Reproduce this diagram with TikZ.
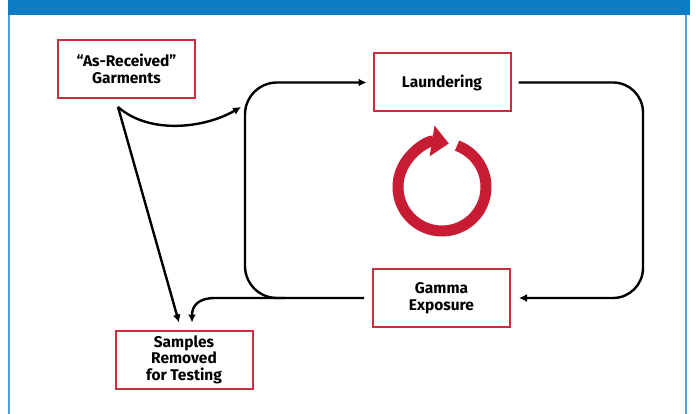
\documentclass[tikz,border=0pt]{standalone}
\usepackage{fontspec}
\setmainfont{Fira Sans}
\usetikzlibrary{arrows.meta}
\definecolor{barblue}{RGB}{12,124,196}
\definecolor{edgeblue}{RGB}{80,160,220}
\definecolor{boxred}{RGB}{206,44,62}
\definecolor{loopred}{RGB}{200,28,52}
\begin{document}
\begin{tikzpicture}[x=1pt,y=-1pt,
        stepbox/.style={draw=boxred,line width=2pt,fill=white,
            minimum width=137pt,minimum height=58pt,align=center,
            font=\fontsize{15.5}{16.5}\selectfont\bfseries},
        flow/.style={line width=2.4pt,-{Latex[length=8pt,width=8pt]}}]
\useasboundingbox (0,0) rectangle (696,414);
\fill[white] (0,0) rectangle (696,414);
\fill[barblue] (8,0) rectangle (690,15);
\draw[edgeblue,line width=1.5pt] (9,15) -- (9,414);
\draw[edgeblue,line width=1.5pt] (686,15) -- (686,414);

\node[stepbox] (recv) at (126.5,69) {“As-Received”\\Garments};
\node[stepbox] (laund) at (442,82.5) {Laundering};
\node[stepbox] (gamma) at (441.5,298) {Gamma\\Exposure};
\node[stepbox] (samples) at (184,359.5) {Samples\\Removed\\for Testing};

\coordinate (ne) at (643,82.5);
\coordinate (se) at (643,298);
\coordinate (sw) at (245,298);
\coordinate (nw) at (245,82.5);
\coordinate (fork) at (118,107);
\coordinate (split) at (285,298);
\coordinate (entry) at (241,107);

\draw[flow,rounded corners=30pt] ([xshift=7pt]laund.east) -- (ne) -- (se)
    -- ([xshift=8pt]gamma.east);
\draw[flow,rounded corners=32pt] ([xshift=-8pt]gamma.west) -- (sw) -- (nw)
    -- ([xshift=-6pt]laund.west);
\draw[flow] (split) -- (215,298) .. controls (198,298) and (192,306) .. ([shift={(8pt,7pt)}]samples.north);
\draw[flow] (fork) -- ([shift={(-5pt,7pt)}]samples.north);
\draw[flow] (fork) .. controls (150,135) and (205,128) .. (entry);

\draw[loopred,line width=11pt,-{Triangle[length=17pt,width=30pt]}]
    (442,187) ++(-70:44) arc[start angle=-70,end angle=279,radius=44];

\end{tikzpicture}
\end{document}
